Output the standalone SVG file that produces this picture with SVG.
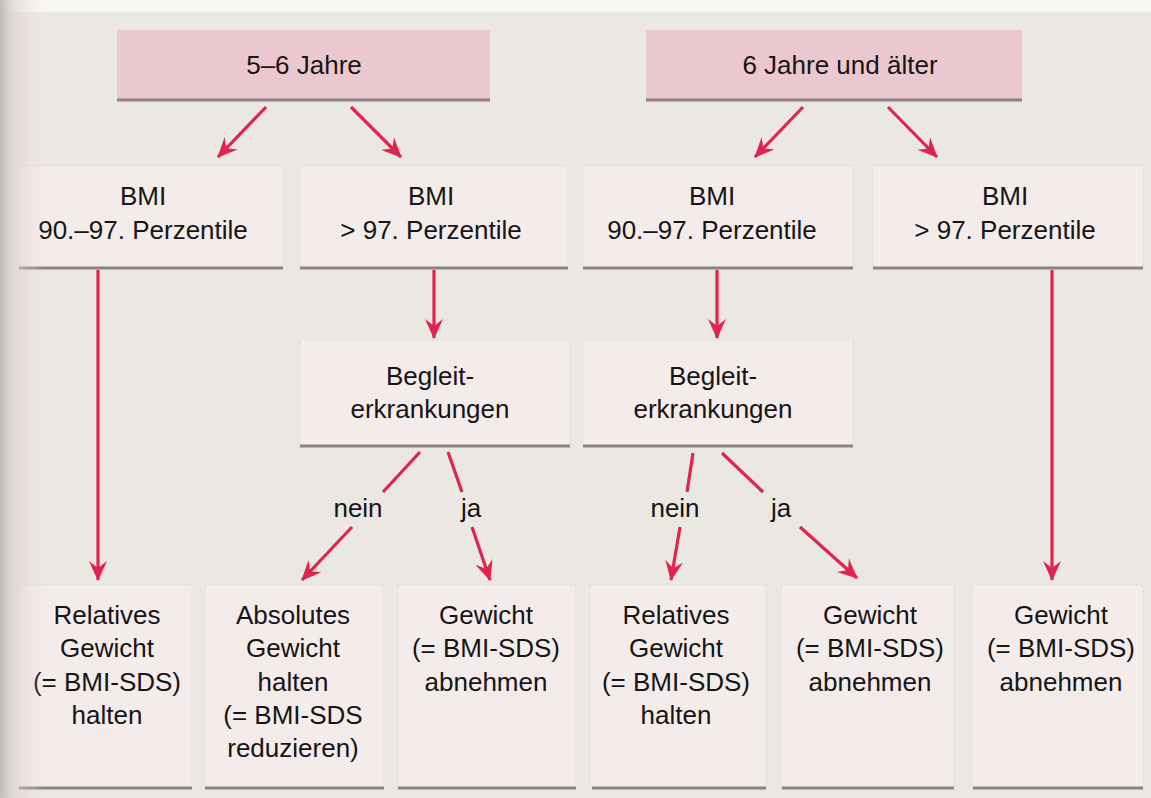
<svg xmlns="http://www.w3.org/2000/svg" width="1151" height="798" viewBox="0 0 1151 798">
<style>
.bg{fill:#ebe8e4}
.box{fill:#f4ebeb;stroke:#dcd4d4;stroke-width:1;stroke-dasharray:2 2}
.top{fill:#ebc8cf;stroke:none}
.base{stroke:#8b8187;stroke-width:3;fill:none}
.t{font-family:"Liberation Sans",Arial,sans-serif;font-size:26px;fill:#161515;text-anchor:middle}
.a{stroke:#e0244e;stroke-width:3.2;fill:none;stroke-linecap:butt}
.ah{marker-end:url(#ah)}
</style>
<defs>
<marker id="ah" viewBox="0 0 20 18" refX="19" refY="9" markerWidth="20" markerHeight="18" markerUnits="userSpaceOnUse" orient="auto">
<path d="M0,0 L20,9 L0,18 L7,9 Z" fill="#e0244e"/>
</marker>
<linearGradient id="lg" x1="0" y1="0" x2="1" y2="0">
<stop offset="0" stop-color="#c2bbbb" stop-opacity="1"/>
<stop offset="0.3" stop-color="#d9cfcf" stop-opacity="0.6"/>
<stop offset="1" stop-color="#f2d3d9" stop-opacity="0"/>
</linearGradient>
</defs>
<rect class="bg" x="0" y="0" width="1151" height="798"/>
<rect x="0" y="0" width="1151" height="12" fill="#f8f7f5"/>

<g id="n-top1"><rect class="top" x="117" y="30" width="373" height="70"/><line class="base" x1="117" y1="100" x2="490" y2="100"/><text class="t" x="304" y="74">5–6 Jahre</text></g>
<g id="n-top2"><rect class="top" x="646" y="30" width="376" height="70"/><line class="base" x1="646" y1="100" x2="1022" y2="100"/><text class="t" x="840" y="74">6 Jahre und älter</text></g>

<g id="n-bmi1"><rect class="box" x="19" y="166" width="264" height="102"/><line class="base" x1="19" y1="268" x2="283" y2="268"/><text class="t" x="143" y="205">BMI<tspan x="143" y="239">90.–97. Perzentile</tspan></text></g>
<g id="n-bmi2"><rect class="box" x="300" y="166" width="268" height="102"/><line class="base" x1="300" y1="268" x2="568" y2="268"/><text class="t" x="431" y="205">BMI<tspan x="431" y="239">&gt; 97. Perzentile</tspan></text></g>
<g id="n-bmi3"><rect class="box" x="583" y="166" width="270" height="102"/><line class="base" x1="583" y1="268" x2="853" y2="268"/><text class="t" x="712" y="205">BMI<tspan x="712" y="239">90.–97. Perzentile</tspan></text></g>
<g id="n-bmi4"><rect class="box" x="873" y="166" width="270" height="102"/><line class="base" x1="873" y1="268" x2="1143" y2="268"/><text class="t" x="1005" y="205">BMI<tspan x="1005" y="239">&gt; 97. Perzentile</tspan></text></g>

<g id="n-begl1"><rect class="box" x="300" y="340" width="270" height="106"/><line class="base" x1="300" y1="446" x2="570" y2="446"/><text class="t" x="430" y="385">Begleit-<tspan x="430" y="418">erkrankungen</tspan></text></g>
<g id="n-begl2"><rect class="box" x="583" y="340" width="270" height="106"/><line class="base" x1="583" y1="446" x2="853" y2="446"/><text class="t" x="713" y="385">Begleit-<tspan x="713" y="418">erkrankungen</tspan></text></g>

<g id="n-r1"><rect class="box" x="19" y="585" width="173" height="203"/><line class="base" x1="19" y1="788" x2="192" y2="788"/><text class="t" x="107" y="624">Relatives<tspan x="107" y="657">Gewicht</tspan><tspan x="107" y="691">(= BMI-SDS)</tspan><tspan x="107" y="724">halten</tspan></text></g>
<g id="n-r2"><rect class="box" x="205" y="585" width="179" height="203"/><line class="base" x1="205" y1="788" x2="384" y2="788"/><text class="t" x="293" y="624">Absolutes<tspan x="293" y="657">Gewicht</tspan><tspan x="293" y="691">halten</tspan><tspan x="293" y="724">(= BMI-SDS</tspan><tspan x="293" y="757">reduzieren)</tspan></text></g>
<g id="n-r3"><rect class="box" x="398" y="585" width="178" height="203"/><line class="base" x1="398" y1="788" x2="576" y2="788"/><text class="t" x="486" y="624">Gewicht<tspan x="486" y="657">(= BMI-SDS)</tspan><tspan x="486" y="691">abnehmen</tspan></text></g>
<g id="n-r4"><rect class="box" x="590" y="585" width="176" height="203"/><line class="base" x1="592" y1="788" x2="766" y2="788"/><text class="t" x="676" y="624">Relatives<tspan x="676" y="657">Gewicht</tspan><tspan x="676" y="691">(= BMI-SDS)</tspan><tspan x="676" y="724">halten</tspan></text></g>
<g id="n-r5"><rect class="box" x="781" y="585" width="173" height="203"/><line class="base" x1="782" y1="788" x2="954" y2="788"/><text class="t" x="870" y="624">Gewicht<tspan x="870" y="657">(= BMI-SDS)</tspan><tspan x="870" y="691">abnehmen</tspan></text></g>
<g id="n-r6"><rect class="box" x="972" y="585" width="171" height="203"/><line class="base" x1="973" y1="788" x2="1143" y2="788"/><text class="t" x="1061" y="624">Gewicht<tspan x="1061" y="657">(= BMI-SDS)</tspan><tspan x="1061" y="691">abnehmen</tspan></text></g>

<g id="connectors">
<line class="a ah" x1="266" y1="107" x2="218" y2="157"/>
<line class="a ah" x1="351" y1="107" x2="401" y2="157"/>
<line class="a ah" x1="803" y1="107" x2="755" y2="157"/>
<line class="a ah" x1="888" y1="107" x2="937" y2="157"/>
<line class="a ah" x1="434" y1="270" x2="434" y2="338"/>
<line class="a ah" x1="717" y1="270" x2="717" y2="338"/>
<line class="a ah" x1="98" y1="270" x2="98" y2="580"/>
<line class="a ah" x1="1052" y1="270" x2="1052" y2="580"/>
<line class="a" x1="420" y1="452" x2="383" y2="492"/>
<line class="a ah" x1="352" y1="527" x2="302" y2="580"/>
<line class="a" x1="448" y1="452" x2="462" y2="492"/>
<line class="a ah" x1="472" y1="527" x2="490" y2="580"/>
<line class="a" x1="693" y1="453" x2="687" y2="492"/>
<line class="a ah" x1="680" y1="527" x2="671" y2="580"/>
<line class="a" x1="722" y1="453" x2="763" y2="492"/>
<line class="a ah" x1="800" y1="527" x2="857" y2="578"/>
<text class="t" x="358" y="517">nein</text>
<text class="t" x="471" y="517">ja</text>
<text class="t" x="675" y="517">nein</text>
<text class="t" x="781" y="517">ja</text>
</g>
<rect x="0" y="0" width="45" height="798" fill="url(#lg)"/>
</svg>
